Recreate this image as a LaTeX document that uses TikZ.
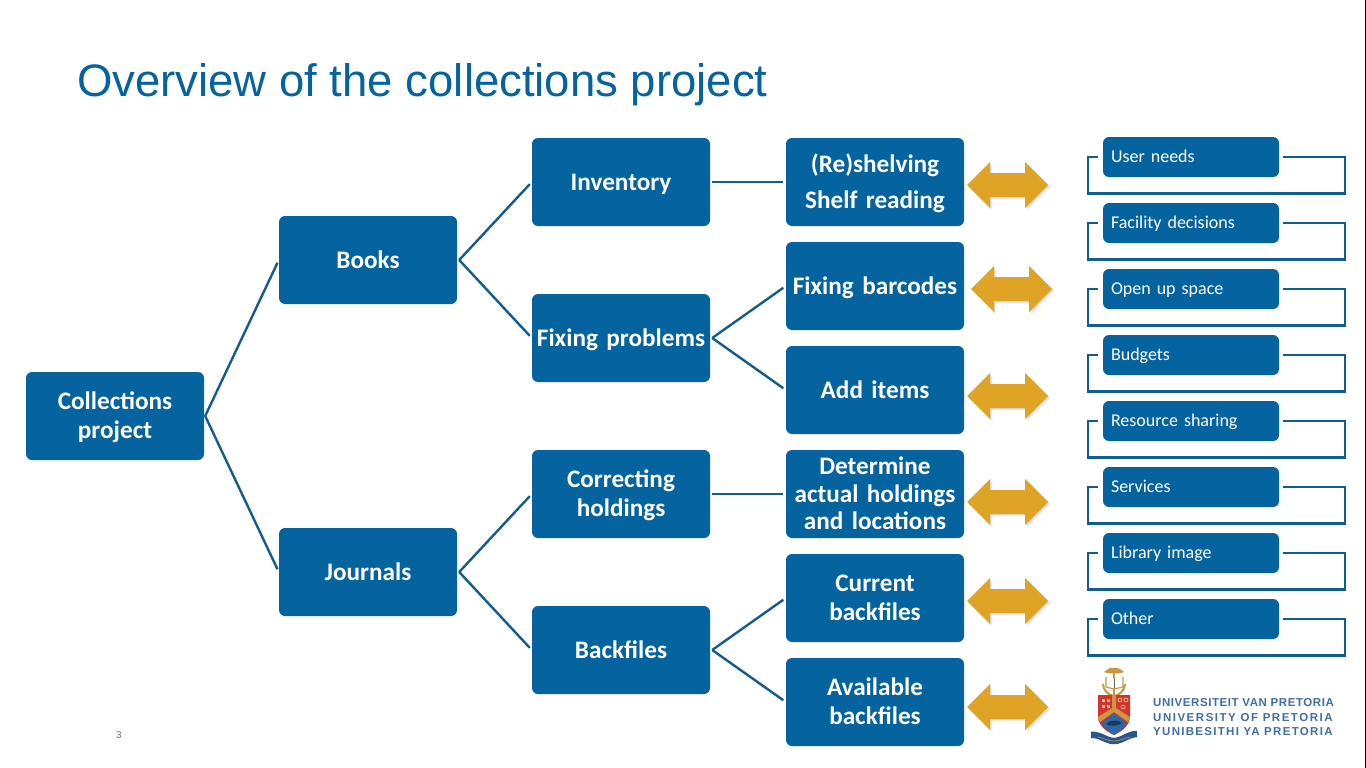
\documentclass[tikz,border=0pt]{standalone}
\usepackage{fontspec}
\setmainfont{Carlito}
\newfontfamily\titlefont{Liberation Sans}
\newfontfamily\logoa[LetterSpace=4.9]{Liberation Sans}
\newfontfamily\logob[LetterSpace=13.2]{Liberation Sans}
\newfontfamily\logoc[LetterSpace=11.3]{Liberation Sans}
\usetikzlibrary{calc}
\definecolor{boxblue}{HTML}{0563A0}
\definecolor{linkblue}{HTML}{135C8C}
\definecolor{gold}{HTML}{DFA325}
\definecolor{logoblue}{HTML}{3F6FA8}
\definecolor{crestred}{HTML}{D8322E}
\definecolor{crestgold}{HTML}{C9983F}
\definecolor{crestblue}{HTML}{2F67A6}
\tikzset{
 main/.style={fill=boxblue,rounded corners=6pt,minimum width=178pt,minimum height=88pt,text width=174pt,align=center,
   text=white,font=\bfseries\fontsize{25.2}{27.2}\selectfont,inner sep=0pt,
   execute at begin node={\rule[-6pt]{0pt}{28pt}},execute at end node={\rule[-6pt]{0pt}{28pt}}},
 item/.style={fill=boxblue,rounded corners=6pt,minimum width=176pt,minimum height=40pt,text width=160pt,align=left,
   text=white,font=\fontsize{18}{20}\selectfont,inner sep=0pt,
   execute at begin node={\rule[-5pt]{0pt}{21.4pt}}},
 link/.style={draw=linkblue,line width=2.4pt,shorten >=3pt},
 loopline/.style={draw=linkblue!70!boxblue,line width=2.6pt,line join=miter},
 logotext/.style={anchor=west,inner sep=0pt,text=logoblue},
 goldshape/.style={fill=gold},
 goldshade/.style={fill=black,opacity=.05},
}
\newcommand{\arrowpath}{(-40.5,0) -- (-17.5,-23) -- (-17.5,-12) -- (17.5,-12) -- (17.5,-23) -- (40.5,0) -- (17.5,23) -- (17.5,12) -- (-17.5,12) -- (-17.5,23) -- cycle}
\newcommand{\goldarrow}[3]{%
  \coordinate (#1) at (#2,#3);
  \foreach \d in {3,2,1}{\fill[goldshade,shift={($(#1)+(\d*0.8,\d*0.8)$)}] \arrowpath;}
  \fill[goldshape,shift={(#1)}] \arrowpath;
}
\newcommand{\itemrow}[3]{%
  \node[item] (#1) at (1191,#2) {#3};
  \coordinate (#1a) at (1098,#2);
  \coordinate (#1b) at (1088,#2);
  \coordinate (#1c) at (1088,#2+36.5);
  \coordinate (#1d) at (1345,#2+36.5);
  \coordinate (#1e) at (1345,#2);
  \coordinate (#1f) at (1283,#2);
  \draw[loopline] (#1a) -- (#1b) -- (#1c) -- (#1d) -- (#1e) -- (#1f);
}
\begin{document}
\begin{tikzpicture}[x=1pt,y=-1pt]
\useasboundingbox (0,0) rectangle (1366,768);
\fill[white] (0,0) rectangle (1366,768);
\fill[black] (1365,0) rectangle (1366,768);
\node[anchor=west,inner sep=0pt,text=boxblue,font=\titlefont\fontsize{45.5}{50}\selectfont] (title) at (77,85) {Overview of the collections project};
\node[main] (root) at (115,416) {Collections\\project};
\node[main] (books) at (368,260) {Books};
\node[main] (journals) at (368,572) {Journals};
\node[main] (inv) at (621,182) {Inventory};
\node[main] (fix) at (621,338) {Fixing problems};
\node[main] (corr) at (621,494) {Correcting\\holdings};
\node[main] (back) at (621,650) {Backfiles};
\node[main,font=\bfseries\fontsize{25.2}{36}\selectfont] (shelf) at (875,182) {(Re)shelving\\Shelf reading};
\node[main] (bar) at (875,286) {Fixing barcodes};
\node[main] (add) at (875,390) {Add items};
\node[main] (det) at (875,494) {Determine\\actual holdings\\and locations};
\node[main] (cur) at (875,598) {Current\\backfiles};
\node[main] (ava) at (875,702) {Available\\backfiles};
\draw[link] ([xshift=1pt]root.east) -- (books.west);
\draw[link] ([xshift=1pt]root.east) -- (journals.west);
\draw[link] ([xshift=2pt]books.east) -- (inv.west);
\draw[link] ([xshift=2pt]books.east) -- (fix.west);
\draw[link] ([xshift=2pt]journals.east) -- (corr.west);
\draw[link] ([xshift=2pt]journals.east) -- (back.west);
\draw[link] ([xshift=2pt]inv.east) -- (shelf.west);
\draw[link] ([xshift=2pt]fix.east) -- (bar.west);
\draw[link] ([xshift=2pt]fix.east) -- (add.west);
\draw[link] ([xshift=2pt]corr.east) -- (det.west);
\draw[link] ([xshift=2pt]back.east) -- (cur.west);
\draw[link] ([xshift=2pt]back.east) -- (ava.west);
\goldarrow{a1}{1007.5}{185}
\goldarrow{a2}{1011.5}{289}
\goldarrow{a3}{1007.5}{396}
\goldarrow{a4}{1007.5}{502}
\goldarrow{a5}{1007.5}{601}
\goldarrow{a6}{1007.5}{707}
\itemrow{i1}{157}{User needs}
\itemrow{i2}{223}{Facility decisions}
\itemrow{i3}{289}{Open up space}
\itemrow{i4}{355}{Budgets}
\itemrow{i5}{421}{Resource sharing}
\itemrow{i6}{487}{Services}
\itemrow{i7}{553}{Library image}
\itemrow{i8}{619}{Other}
\node[text=black!55,font=\titlefont\fontsize{10}{12}\selectfont,inner sep=0pt] (pg) at (119,735) {3};
\node[logotext,font=\logoa\bfseries\fontsize{11.5}{14}\selectfont] (l1) at (1153,703) {UNIVERSITEIT VAN PRETORIA};
\node[logotext,font=\logob\bfseries\fontsize{11.5}{14}\selectfont] (l2) at (1153,717.5) {UNIVERSITY OF PRETORIA};
\node[logotext,font=\logoc\bfseries\fontsize{11.5}{14}\selectfont] (l3) at (1153,732) {YUNIBESITHI YA PRETORIA};
% crest: anchor and book
\draw[crestgold,line width=1.6pt] (1114,672) -- (1114,696);
\draw[crestgold,line width=2pt] (1103,684) .. controls (1104,692) and (1109,695) .. (1114,696) .. controls (1119,695) and (1124,692) .. (1125,684);
\fill[crestgold] (1104,672) .. controls (1108,669) and (1110,667) .. (1114,668) .. controls (1118,667) and (1120,669) .. (1124,672) .. controls (1120,674) and (1108,674) .. (1104,672) -- cycle;
\fill[white] (1107,677) -- (1114,679) -- (1122,677) -- (1122,686) -- (1114,688) -- (1107,686) -- cycle;
\draw[black!60,line width=.5pt] (1114,679) -- (1114,688);
\draw[crestgold,line width=1.1pt] (1106,677) -- (1106,687) -- (1114,689) -- (1123,687) -- (1123,677);
% crest: shield
\fill[crestred] (1098,695) -- (1130,695) -- (1130,716) .. controls (1130,726) and (1121,732) .. (1114,735) .. controls (1107,732) and (1098,726) .. (1098,716) -- cycle;
\fill[crestblue] (1114,713) -- (1127,723) .. controls (1124,728) and (1119,732) .. (1114,735) .. controls (1109,732) and (1104,728) .. (1101,723) -- cycle;
\fill[black!45!crestblue] (1106,724) .. controls (1109,720) and (1118,719) .. (1122,723) .. controls (1118,726) and (1110,727) .. (1106,724) -- cycle;
\fill[crestgold] (1112,695) -- (1116,695) -- (1116,708) -- (1130,717) -- (1128,722) -- (1114,712) -- (1100,722) -- (1098,717) -- (1112,708) -- cycle;
\foreach \cx/\cy in {1103/700,1108/700,1103/706,1108/706}{\fill[crestgold!60!white] (\cx-1.5,\cy-1.5) rectangle (\cx+1.5,\cy+1.5);}
\foreach \cx/\cy in {1120/700,1126/700,1123/707}{\draw[crestgold!70!white,line width=.8pt] (\cx,\cy) circle (2);}
% crest: ribbon
\draw[crestblue!85!black,line width=6.5pt] (1091,735) .. controls (1100,734) and (1106,741) .. (1114,741) .. controls (1122,741) and (1128,734) .. (1137,734);
\draw[crestgold,line width=.6pt] (1098,737) .. controls (1103,738) and (1108,741) .. (1114,741) .. controls (1120,741) and (1125,738) .. (1130,737);
\end{tikzpicture}
\end{document}
